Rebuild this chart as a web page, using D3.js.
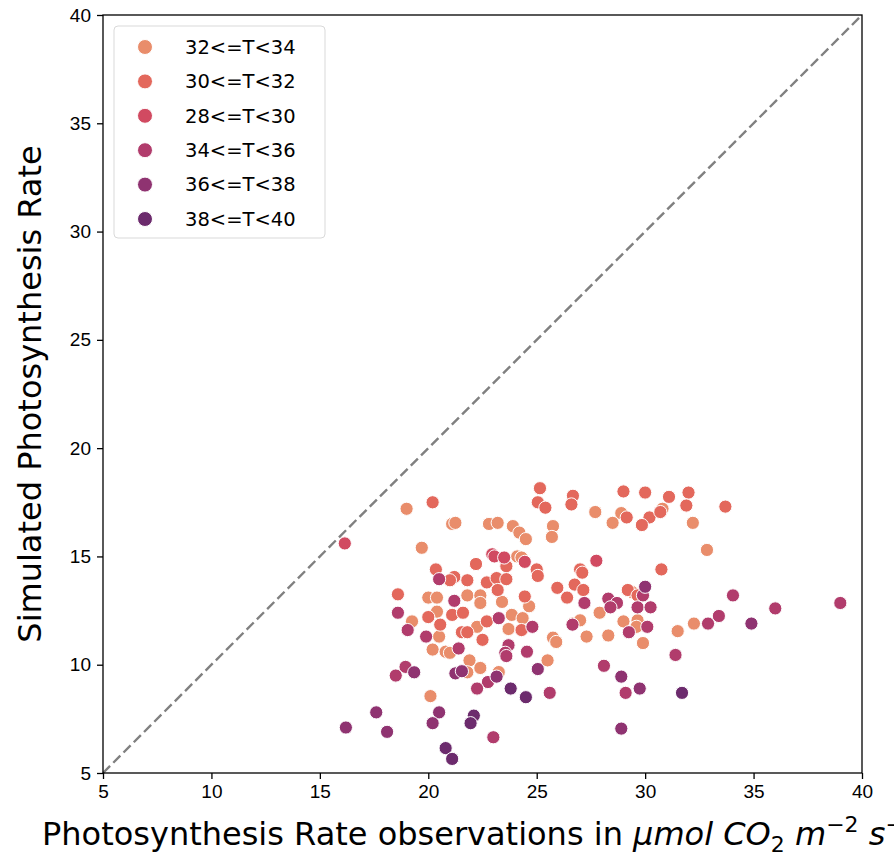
<!DOCTYPE html>
<html>
<head>
<meta charset="utf-8">
<script src="https://cdn.jsdelivr.net/npm/d3@7"></script>
<style>
  body { margin: 0; background: #fff; }
  svg { font-family: "DejaVu Sans", sans-serif; }
</style>
</head>
<body>
<div id="chart"></div>
<script>
// legend order as in the picture
const categories = ["32<=T<34", "30<=T<32", "28<=T<30", "34<=T<36", "36<=T<38", "38<=T<40"];
const colors = ["#e98d6b", "#e3685c", "#d14a61", "#b13c6c", "#8f3371", "#6c2b6d"];
const xTicks = [5, 10, 15, 20, 25, 30, 35, 40];
const yTicks = [5, 10, 15, 20, 25, 30, 35, 40];

// [observed, simulated]
const t32 = [
  [19.0, 17.2], [21.1, 16.5], [21.25, 16.55], [22.8, 16.5], [23.2, 16.55], [23.9, 16.4],
  [24.2, 16.1], [24.5, 15.8], [25.75, 16.4], [25.7, 15.9], [27.7, 17.05], [28.9, 17.0],
  [28.5, 16.55], [30.8, 17.2], [32.2, 16.55], [32.85, 15.3], [19.7, 15.4], [24.1, 15.0],
  [24.3, 14.95], [20.0, 13.1], [20.4, 13.1], [21.8, 13.2], [22.4, 13.2], [22.4, 12.85],
  [23.4, 12.9], [24.65, 12.7], [20.4, 12.45], [19.25, 12.0], [20.5, 11.3], [23.85, 12.3],
  [24.35, 12.15], [22.25, 11.75], [23.7, 11.65], [25.75, 11.25], [25.9, 11.05], [26.65, 11.9],
  [27.0, 12.05], [27.3, 11.3], [27.9, 12.4], [28.3, 11.35], [29.0, 12.0], [29.65, 12.05],
  [29.6, 11.75], [31.5, 11.55], [32.25, 11.9], [29.9, 11.0], [20.2, 10.7], [20.8, 10.6],
  [21.0, 10.55], [21.9, 10.2], [22.4, 9.85], [23.25, 9.66], [21.8, 9.65], [25.5, 10.2],
  [20.1, 8.55], [29.4, 13.35]
];
const t30 = [
  [25.15, 18.15], [26.67, 17.8], [26.6, 17.4], [25.05, 17.5], [25.4, 17.25], [20.2, 17.5],
  [29.0, 18.0], [30.0, 17.95], [31.1, 17.75], [32.0, 17.95], [31.9, 17.35], [33.7, 17.3],
  [29.15, 16.8], [30.2, 16.8], [30.7, 17.05], [29.85, 16.45], [22.2, 14.65], [20.35, 14.4],
  [23.6, 14.55], [25.0, 14.4], [25.05, 14.1], [21.2, 14.05], [21.0, 13.9], [21.8, 13.9],
  [22.7, 13.8], [23.15, 14.0], [23.6, 13.95], [23.2, 13.45], [25.95, 13.55], [26.4, 13.1],
  [26.75, 13.7], [27.15, 13.45], [27.0, 14.4], [27.1, 14.25], [24.45, 13.15], [29.2, 13.45],
  [29.65, 13.2], [30.75, 14.4], [18.6, 13.25], [20.0, 12.2], [20.55, 11.85], [21.1, 12.3],
  [21.6, 12.4], [21.55, 11.5], [21.8, 11.5], [22.7, 12.0], [22.5, 11.15], [24.3, 11.6]
];
const t28 = [
  [16.15, 15.6], [22.95, 15.1], [23.05, 15.0], [23.5, 14.95], [24.45, 14.75], [27.75, 14.8]
];
const t34 = [
  [20.5, 13.95], [21.2, 12.95], [27.2, 12.85], [18.6, 12.4], [23.25, 12.15], [19.05, 11.6],
  [19.9, 11.3], [24.8, 11.75], [28.3, 13.05], [28.7, 12.85], [28.4, 12.65], [29.9, 13.2],
  [29.65, 12.65], [30.25, 12.65], [34.05, 13.2], [36.0, 12.6], [39.0, 12.85], [30.1, 11.75],
  [29.25, 11.5], [33.4, 12.25], [32.9, 11.9], [23.7, 10.9], [23.55, 10.55], [23.6, 10.4],
  [24.55, 10.6], [21.4, 10.75], [28.1, 9.95], [31.4, 10.45], [18.95, 9.9], [18.5, 9.5],
  [22.75, 9.2], [22.25, 8.9], [25.6, 8.7], [29.1, 8.7], [23.0, 6.65], [26.65, 11.85]
];
const t36 = [
  [19.35, 9.65], [21.25, 9.6], [21.55, 9.7], [23.15, 9.45], [25.05, 9.8], [28.9, 9.45],
  [29.75, 8.9], [30.0, 13.6], [34.9, 11.9], [28.9, 7.05], [17.6, 7.8], [16.2, 7.1],
  [18.1, 6.9], [20.5, 7.8], [20.2, 7.3]
];
const t38 = [
  [22.1, 7.65], [21.95, 7.3], [20.8, 6.15], [21.1, 5.65], [23.8, 8.9], [24.5, 8.5], [31.7, 8.7]
];
const groups = [t32, t30, t28, t34, t36, t38];

const width = 894, height = 860;
const margin = { top: 15, right: 32, bottom: 87, left: 103 };

const x = d3.scaleLinear().domain([5, 40]).range([margin.left, width - margin.right]);
const y = d3.scaleLinear().domain([5, 40]).range([height - margin.bottom, margin.top]);
const color = d3.scaleOrdinal(categories, colors);

const svg = d3.select("#chart").append("svg")
  .attr("width", width)
  .attr("height", height)
  .attr("viewBox", [0, 0, width, height]);

// identity line
svg.append("line")
  .attr("x1", x(5)).attr("y1", y(5))
  .attr("x2", x(40)).attr("y2", y(40))
  .attr("stroke", "#808080")
  .attr("stroke-width", 2.4)
  .attr("stroke-dasharray", "10,4.5");

// points
const points = groups.flatMap((g, i) => g.map(d => ({ x: d[0], y: d[1], cat: categories[i] })));
svg.append("g")
  .selectAll("circle")
  .data(points)
  .join("circle")
  .attr("cx", d => x(d.x))
  .attr("cy", d => y(d.y))
  .attr("r", 6.6)
  .attr("fill", d => color(d.cat))
  .attr("stroke", "#fff")
  .attr("stroke-width", 1);

// axes
const xAxis = d3.axisBottom(x).tickValues(xTicks).tickSize(6).tickPadding(6);
const yAxis = d3.axisLeft(y).tickValues(yTicks).tickSize(6).tickPadding(6);

svg.append("g")
  .attr("transform", `translate(0,${height - margin.bottom})`)
  .call(xAxis)
  .call(g => g.select(".domain").remove())
  .call(g => g.selectAll(".tick line").attr("stroke-width", 1.3))
  .call(g => g.selectAll(".tick text").attr("font-size", 19).attr("fill", "#000"));

svg.append("g")
  .attr("transform", `translate(${margin.left},0)`)
  .call(yAxis)
  .call(g => g.select(".domain").remove())
  .call(g => g.selectAll(".tick line").attr("stroke-width", 1.3))
  .call(g => g.selectAll(".tick text").attr("font-size", 19).attr("fill", "#000"));

// frame
svg.append("rect")
  .attr("x", x(5)).attr("y", y(40))
  .attr("width", x(40) - x(5)).attr("height", y(5) - y(40))
  .attr("fill", "none")
  .attr("stroke", "#000")
  .attr("stroke-width", 1.3);

// axis titles (the reference runs past the right edge, as matplotlib clipped it)
const xt = svg.append("text")
  .attr("x", 42)
  .attr("y", 845)
  .attr("text-anchor", "start")
  .attr("font-size", 32)
  .attr("fill", "#000");
xt.append("tspan").text("Photosynthesis Rate observations in ");
xt.append("tspan").attr("font-style", "italic").text("μmol CO");
xt.append("tspan").attr("font-size", 22).attr("dy", 7).text("2");
xt.append("tspan").attr("dy", -7).text(" ");
xt.append("tspan").attr("font-style", "italic").text("m");
xt.append("tspan").attr("font-size", 22).attr("dy", -13).text("−2");
xt.append("tspan").attr("dy", 13).text(" ");
xt.append("tspan").attr("font-style", "italic").text("s");
xt.append("tspan").attr("font-size", 22).attr("dy", -13).text("−1");

svg.append("text")
  .attr("transform", `translate(30,${(y(5) + y(40)) / 2}) rotate(-90)`)
  .attr("text-anchor", "middle")
  .attr("dy", "0.35em")
  .attr("font-size", 32)
  .attr("fill", "#000")
  .text("Simulated Photosynthesis Rate");

// legend
const legend = svg.append("g").attr("transform", "translate(114,26)");
legend.append("rect")
  .attr("width", 211).attr("height", 212)
  .attr("rx", 4)
  .attr("fill", "#fff")
  .attr("fill-opacity", 0.8)
  .attr("stroke", "#d9d9d9");
const item = legend.selectAll(".item")
  .data(categories)
  .join("g")
  .attr("transform", (d, i) => `translate(0,${21 + i * 34.4})`);
item.append("circle")
  .attr("cx", 31).attr("r", 7.5)
  .attr("fill", d => color(d))
  .attr("stroke", "#fff")
  .attr("stroke-width", 1);
item.append("text")
  .attr("x", 71)
  .attr("dy", "0.35em")
  .attr("font-size", 19.5)
  .attr("fill", "#000")
  .text(d => d);
</script>
</body>
</html>
